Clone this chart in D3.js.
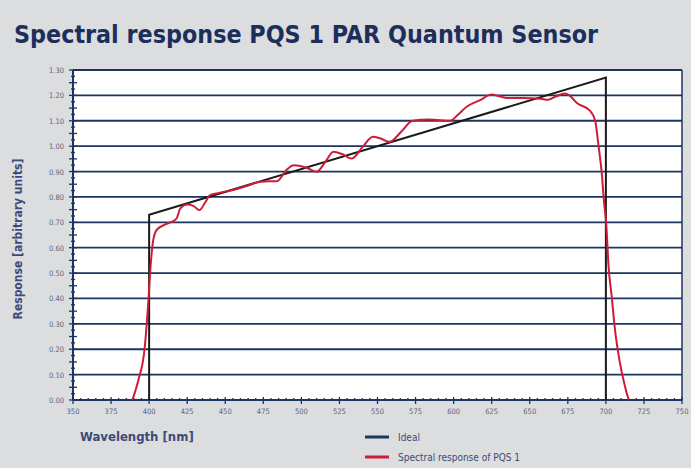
<!DOCTYPE html>
<html>
<head>
<meta charset="utf-8">
<script src="https://cdn.jsdelivr.net/npm/d3@7"></script>
<style>
  body { margin: 0; background: #dcdddf; }
  svg { display: block; }
</style>
</head>
<body>
<svg id="chart" width="691" height="468"></svg>
<script>
// wavelength [nm] and response of the PQS 1 sensor
const pqsWavelength = [389, 393, 397, 399.5, 401, 402.7, 405, 410, 414, 418, 420.5, 425, 429, 433, 437, 440,
  446, 457, 465, 473, 479, 484, 490, 495, 503, 510, 516, 521, 527, 533, 540, 547, 552, 558, 566, 573,
  584, 598, 603, 609, 617, 625, 635, 645, 657, 662, 667, 673, 676, 681, 689.5, 693, 695, 697.5, 698.5,
  700.5, 701.6, 703.8, 706, 709.3, 712.6, 715];
const pqsResponse = [0, 0.08, 0.20, 0.39, 0.53, 0.63, 0.67, 0.69, 0.70, 0.715, 0.755, 0.77, 0.765, 0.748, 0.78, 0.807,
  0.816, 0.83, 0.845, 0.86, 0.862, 0.862, 0.905, 0.925, 0.916, 0.899, 0.94, 0.978, 0.968, 0.951, 0.995, 1.037, 1.03, 1.017, 1.06, 1.10,
  1.105, 1.10, 1.125, 1.157, 1.18, 1.203, 1.19, 1.19, 1.187, 1.183, 1.195, 1.207, 1.20, 1.17, 1.14, 1.10, 1.01, 0.88, 0.80,
  0.67, 0.54, 0.41, 0.276, 0.144, 0.052, 0];

// ideal PAR response
const idealWavelength = [400, 400, 700, 700];
const idealResponse = [0, 0.73, 1.27, 0];

const xTicks = d3.range(350, 751, 25);
const yTicks = d3.range(0, 1.301, 0.1);
const legendLabels = ['Ideal', 'Spectral response of PQS 1'];

(function() {
  let svg = d3.select('#chart');
  let navy = '#1c3560';
  let labelColor = '#5a6680';

  let left = 73, right = 682, top = 70, bottom = 400;

  let xScale = d3.scaleLinear().domain([350, 750]).range([left, right]);
  let yScale = d3.scaleLinear().domain([0, 1.3]).range([bottom, top]);

  // title
  svg.append('text')
    .attr('x', 14).attr('y', 43)
    .attr('font-family', 'DejaVu Sans Condensed, DejaVu Sans')
    .attr('font-weight', 'bold')
    .attr('font-size', 24.8)
    .attr('fill', '#1c2f5c')
    .text('Spectral response PQS 1 PAR Quantum Sensor');

  // plot background
  svg.append('rect')
    .attr('x', left).attr('y', top)
    .attr('width', right - left).attr('height', bottom - top)
    .attr('fill', '#fff');

  // horizontal grid
  svg.append('g')
    .selectAll('line')
    .data(yTicks.slice(1))
    .join('line')
      .attr('x1', left).attr('x2', right)
      .attr('y1', (d) => yScale(d)).attr('y2', (d) => yScale(d))
      .attr('stroke', navy)
      .attr('stroke-width', 1.8);

  // right border
  svg.append('line')
    .attr('x1', right).attr('x2', right)
    .attr('y1', top).attr('y2', bottom)
    .attr('stroke', navy).attr('stroke-width', 1.5);

  // y axis with minor ticks
  let yAxis = svg.append('g').attr('transform', `translate(${left},0)`);
  yAxis.append('line')
    .attr('y1', top).attr('y2', bottom)
    .attr('stroke', navy).attr('stroke-width', 2);
  yAxis.selectAll('.minor')
    .data(d3.range(0, 1.301, 0.025))
    .join('line')
      .attr('x1', (d, i) => i % 2 === 0 ? -4 : -2)
      .attr('x2', (d, i) => i % 2 === 0 ? 4 : 2)
      .attr('y1', (d) => yScale(d)).attr('y2', (d) => yScale(d))
      .attr('stroke', navy).attr('stroke-width', 1.3);
  yAxis.selectAll('text')
    .data(yTicks)
    .join('text')
      .attr('x', -9)
      .attr('y', (d) => yScale(d) + 3)
      .attr('text-anchor', 'end')
      .attr('font-family', 'DejaVu Sans Condensed, DejaVu Sans')
      .attr('font-size', 7.5)
      .attr('fill', labelColor)
      .text((d) => d.toFixed(2));

  // x axis with minor ticks
  let xAxis = svg.append('g').attr('transform', `translate(0,${bottom})`);
  xAxis.append('line')
    .attr('x1', left).attr('x2', right)
    .attr('stroke', navy).attr('stroke-width', 2);
  xAxis.selectAll('.minor')
    .data(d3.range(350, 751, 5))
    .join('line')
      .attr('x1', (d) => xScale(d)).attr('x2', (d) => xScale(d))
      .attr('y1', (d) => d % 25 === 0 ? -3 : -2)
      .attr('y2', (d) => d % 25 === 0 ? 4 : 0)
      .attr('stroke', navy).attr('stroke-width', 1.3);
  xAxis.selectAll('text')
    .data(xTicks)
    .join('text')
      .attr('x', (d) => xScale(d))
      .attr('y', 14)
      .attr('text-anchor', 'middle')
      .attr('font-family', 'DejaVu Sans Condensed, DejaVu Sans')
      .attr('font-size', 7.5)
      .attr('fill', labelColor)
      .text((d) => d);

  // axis titles
  svg.append('text')
    .attr('x', 80).attr('y', 441)
    .attr('font-family', 'DejaVu Sans Condensed, DejaVu Sans')
    .attr('font-weight', 'bold')
    .attr('font-size', 13)
    .attr('fill', '#3c4a78')
    .text('Wavelength [nm]');

  svg.append('text')
    .attr('transform', `translate(22, ${(top + bottom) / 2 + 4}) rotate(-90)`)
    .attr('text-anchor', 'middle')
    .attr('font-family', 'DejaVu Sans Condensed, DejaVu Sans')
    .attr('font-weight', 'bold')
    .attr('font-size', 12)
    .attr('fill', '#3c4a78')
    .text('Response [arbitrary units]');

  // lines
  let idealData = d3.zip(idealWavelength, idealResponse);
  let pqsData = d3.zip(pqsWavelength, pqsResponse);

  let straight = d3.line()
    .x((d) => xScale(d[0]))
    .y((d) => yScale(d[1]));

  let smooth = d3.line()
    .x((d) => xScale(d[0]))
    .y((d) => yScale(d[1]))
    .curve(d3.curveMonotoneX);

  svg.append('path')
    .datum(idealData)
    .attr('fill', 'none')
    .attr('stroke', '#1a1a1a')
    .attr('stroke-width', 2)
    .attr('d', straight);

  svg.append('path')
    .datum(pqsData)
    .attr('fill', 'none')
    .attr('stroke', '#d11a35')
    .attr('stroke-width', 2)
    .attr('d', smooth);

  // legend
  let legend = svg.append('g').attr('transform', 'translate(365, 437)');
  let legendColors = [navy, '#d11a35'];
  legendLabels.forEach((label, i) => {
    let g = legend.append('g').attr('transform', `translate(0, ${i * 20})`);
    g.append('line')
      .attr('x1', 0).attr('x2', 24)
      .attr('stroke', legendColors[i]).attr('stroke-width', 3);
    g.append('text')
      .attr('x', 33).attr('y', 4)
      .attr('font-family', 'DejaVu Sans Condensed, DejaVu Sans')
      .attr('font-size', 10)
      .attr('fill', '#3c4a78')
      .text(label);
  });
})();
</script>
</body>
</html>
